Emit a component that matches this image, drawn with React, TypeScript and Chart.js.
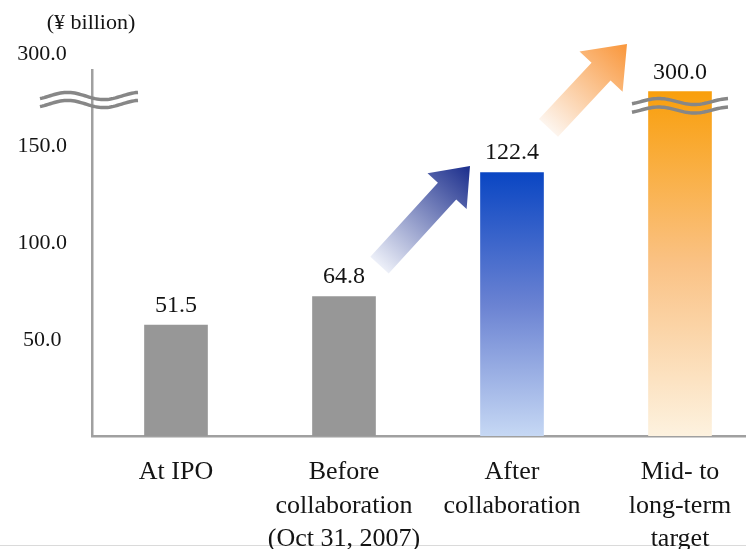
import React, { useEffect, useRef } from "react";
import { Chart, registerables } from "chart.js";

Chart.register(...registerables);

// ---------------- data ----------------
const categories: string[][] = [
  ["At IPO"],
  ["Before", "collaboration", "(Oct 31, 2007)"],
  ["After", "collaboration"],
  ["Mid- to", "long-term", "target"],
];
const values: number[] = [51.5, 64.8, 122.4, 300.0];
const axisBreakValue = 160; // bars above this value are cut by a break symbol
const tickValues: number[] = [50, 100, 150];
const brokenTickLabel = "300.0";
const unitLabel = "(\u00A5 billion)";

const plotted = values.map((v) => Math.min(v, axisBreakValue));

// ---------------- styles ----------------
const FONT = "'Liberation Serif', 'Times New Roman', serif";
const TEXT = "#141414";
const AXIS = "#a0a0a0";
const BREAK = "#878787";

function wave(ctx: CanvasRenderingContext2D, x0: number, x1: number, yc: number, amp: number) {
  ctx.beginPath();
  const n = 48;
  for (let i = 0; i <= n; i++) {
    const t = i / n;
    const x = x0 + (x1 - x0) * t;
    const y = yc - amp * Math.cos((2 * Math.PI * (t - 0.28)) / 0.74);
    if (i === 0) ctx.moveTo(x, y);
    else ctx.lineTo(x, y);
  }
  ctx.stroke();
}

function arrow(
  ctx: CanvasRenderingContext2D,
  tx: number, ty: number, px: number, py: number,
  sh: number, hl: number, hh: number, c0: string, c1: string
) {
  const dx = px - tx, dy = py - ty;
  const L = Math.hypot(dx, dy);
  const ux = dx / L, uy = dy / L;
  const nx = -uy, ny = ux;
  const bx = px - ux * hl, by = py - uy * hl;
  const g = ctx.createLinearGradient(tx, ty, px, py);
  g.addColorStop(0, c0);
  g.addColorStop(1, c1);
  ctx.beginPath();
  ctx.moveTo(tx + nx * sh, ty + ny * sh);
  ctx.lineTo(bx + nx * sh, by + ny * sh);
  ctx.lineTo(bx + nx * hh, by + ny * hh);
  ctx.lineTo(px, py);
  ctx.lineTo(bx - nx * hh, by - ny * hh);
  ctx.lineTo(bx - nx * sh, by - ny * sh);
  ctx.lineTo(tx - nx * sh, ty - ny * sh);
  ctx.closePath();
  ctx.fillStyle = g;
  ctx.fill();
}

const decorPlugin = {
  id: "decor",
  beforeDraw(chart: any) {
    const ctx = chart.ctx as CanvasRenderingContext2D;
    ctx.save();
    ctx.fillStyle = "#dadada";
    ctx.fillRect(0, 545, chart.width, 1);
    ctx.restore();
  },
  afterDatasetsDraw(chart: any) {
    const ctx = chart.ctx as CanvasRenderingContext2D;
    const area = chart.chartArea;
    const xs = chart.scales.x;
    const ys = chart.scales.y;
    const meta = chart.getDatasetMeta(0);
    ctx.save();

    // arrows
    arrow(ctx,
      xs.getPixelForValue(1) + 35.5, ys.getPixelForValue(79.4),
      xs.getPixelForValue(2) - 42, ys.getPixelForValue(125.4),
      12.4, 34, 26.5, "#eceff8", "#1a2d8c");
    arrow(ctx,
      xs.getPixelForValue(2) + 36.5, ys.getPixelForValue(143.1),
      xs.getPixelForValue(3) - 53, ys.getPixelForValue(182.1),
      13, 38, 29.5, "#fdf5ee", "#f9963a");

    // value labels + bar breaks
    ctx.font = `24px ${FONT}`;
    ctx.fillStyle = TEXT;
    ctx.textAlign = "center";
    ctx.textBaseline = "alphabetic";
    meta.data.forEach((bar: any, i: number) => {
      ctx.fillText(values[i].toFixed(1), bar.x, bar.y - 13);
      if (values[i] > axisBreakValue) {
        ctx.strokeStyle = BREAK;
        ctx.lineWidth = 3.5;
        ctx.lineCap = "butt";
        wave(ctx, bar.x - 48, bar.x + 48, bar.y + 10, 3);
        wave(ctx, bar.x - 48, bar.x + 48, bar.y + 18.5, 3);
      }
    });

    // axis break
    ctx.strokeStyle = BREAK;
    ctx.lineWidth = 3.5;
    wave(ctx, area.left - 52, area.left + 46, area.top + 26, 3.6);
    wave(ctx, area.left - 52, area.left + 46, area.top + 34, 3.6);

    // broken tick label and unit
    ctx.font = `22px ${FONT}`;
    ctx.fillStyle = TEXT;
    ctx.textAlign = "center";
    ctx.textBaseline = "middle";
    ctx.fillText(brokenTickLabel, area.left - 50, area.top - 16);
    ctx.fillText(unitLabel, area.left - 1, area.top - 47);
    ctx.restore();
  },
};

export default function App() {
  const ref = useRef<HTMLCanvasElement | null>(null);

  useEffect(() => {
    if (!ref.current) return;
    const chart = new Chart(ref.current, {
      type: "bar",
      data: {
        labels: categories as any,
        datasets: [
          {
            data: plotted,
            yAxisID: "y",
            barThickness: 63,
            borderWidth: 0,
            backgroundColor: (c: any) => {
              const i = c.dataIndex;
              if (i < 2) return "#979797";
              const chart = c.chart;
              const area = chart.chartArea;
              if (!area || !chart.scales.y) return i === 2 ? "#4a66cb" : "#f9b45a";
              const ys = chart.scales.y;
              const top = ys.getPixelForValue(plotted[i]);
              const bot = ys.getPixelForValue(0);
              const g = chart.ctx.createLinearGradient(0, top, 0, bot);
              if (i === 2) {
                g.addColorStop(0, "#0a46c3");
                g.addColorStop(0.5, "#6a82d2");
                g.addColorStop(1, "#c6d8f4");
              } else {
                g.addColorStop(0, "#f99f0c");
                g.addColorStop(0.5, "#fac285");
                g.addColorStop(1, "#fdf2df");
              }
              return g;
            },
          },
        ],
      },
      options: {
        responsive: false,
        animation: false,
        devicePixelRatio: 1,
        layout: { padding: { top: 70, right: 16, left: 0, bottom: 0 } },
        plugins: { legend: { display: false }, tooltip: { enabled: false } },
        scales: {
          x: {
            type: "category",
            z: 1,
            grid: { display: false, drawTicks: false, tickLength: 0 },
            border: { display: true, color: AXIS, width: 2.5 },
            ticks: {
              font: { family: FONT, size: 26, lineHeight: 1.3 },
              color: TEXT,
              padding: 19,
              maxRotation: 0,
              autoSkip: false,
            },
            afterFit: (s: any) => { s.height = 113; },
          },
          y: { display: false, min: 0, max: 170 },
          y2: {
            position: "left",
            min: 0,
            max: 188,
            afterBuildTicks: (s: any) => { s.ticks = tickValues.map((v) => ({ value: v })); },
            grid: { display: false, drawTicks: false, tickLength: 0 },
            border: { display: true, color: AXIS, width: 2.5 },
            ticks: {
              font: { family: FONT, size: 22 },
              color: TEXT,
              padding: 25,
              crossAlign: "center",
              labelOffset: 2,
              callback: (v: any) => Number(v).toFixed(1),
            },
            afterFit: (s: any) => { s.width = 92; },
          },
        } as any,
      },
      plugins: [decorPlugin],
    });
    return () => chart.destroy();
  }, []);

  return (
    <div style={{ position: "fixed", left: 0, top: 0, width: 780, height: 549, background: "#fff" }}>
      <canvas ref={ref} width={780} height={549} style={{ display: "block" }} />
    </div>
  );
}
